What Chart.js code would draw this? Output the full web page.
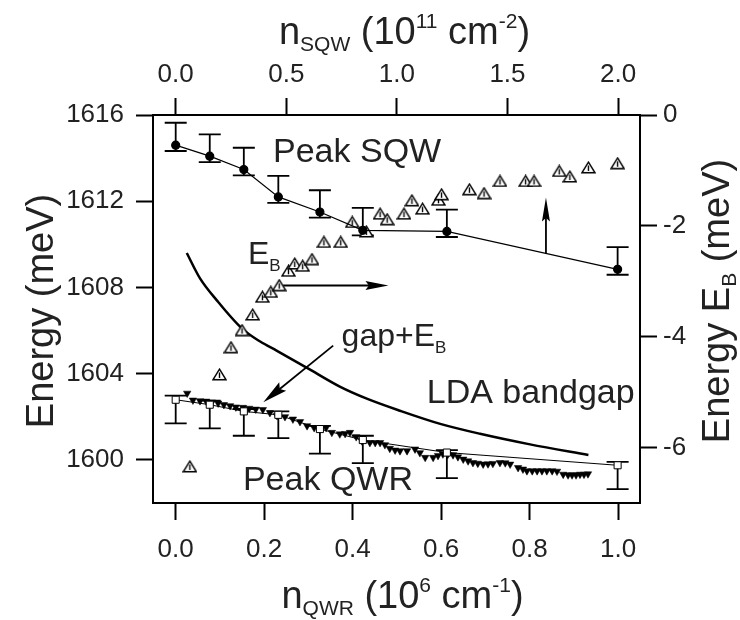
<!DOCTYPE html>
<html>
<head>
<meta charset="utf-8">
<script src="https://cdn.jsdelivr.net/npm/chart.js@4.4.0/dist/chart.umd.min.js"></script>
<style>
  body { margin: 0; background: #fff; }
  canvas { display: block; }
</style>
</head>
<body>
<canvas id="chart" width="740" height="620"></canvas>
<script>
// n_QWR (10^6 cm^-1) of the measured peaks
const peakX = [0.0, 0.077, 0.154, 0.232, 0.326, 0.423, 0.613, 0.999];

// Peak SQW (meV) and its error bar ends
const sqwPeak = [1614.6, 1614.09, 1613.47, 1612.2, 1611.5, 1610.65, 1610.6, 1608.84];
const sqwHigh = [1615.64, 1615.1, 1614.48, 1613.18, 1612.51, 1611.69, 1611.61, 1609.87];
const sqwLow = [1614.33, 1613.81, 1613.2, 1611.92, 1611.24, 1610.42, 1610.34, 1608.59];

// Peak QWR (meV) and its error bar ends
const qwrPeak = [1602.79, 1602.56, 1602.25, 1602.09, 1601.43, 1600.92, 1600.34, 1599.75];
const qwrHigh = [1602.98, 1602.75, 1602.36, 1602.25, 1601.58, 1601.12, 1600.45, 1599.91];
const qwrLow = [1601.69, 1601.46, 1601.12, 1601.01, 1600.29, 1599.85, 1599.15, 1598.64];

// E_B (meV, right axis)
const ebX = [0.032, 0.099, 0.125, 0.150, 0.174, 0.196, 0.215, 0.234, 0.255, 0.269, 0.287,
  0.308, 0.335, 0.373, 0.399, 0.431, 0.462, 0.478, 0.516, 0.534, 0.558, 0.594, 0.601,
  0.664, 0.697, 0.733, 0.791, 0.810, 0.867, 0.891, 0.933, 0.999];
const ebVal = [-6.34, -4.68, -4.19, -3.88, -3.60, -3.28, -3.19, -3.07, -2.81, -2.68, -2.72,
  -2.60, -2.29, -2.29, -1.93, -2.10, -1.78, -1.88, -1.78, -1.54, -1.69, -1.53, -1.43,
  -1.34, -1.41, -1.19, -1.19, -1.19, -1.01, -1.11, -0.945, -0.87];

// gap + E_B (meV)
const gapX = [0.026, 0.039, 0.055, 0.069, 0.082, 0.096, 0.109, 0.123, 0.136, 0.152, 0.166,
  0.181, 0.197, 0.213, 0.229, 0.247, 0.265, 0.281, 0.297, 0.313, 0.326, 0.340, 0.353,
  0.371, 0.383, 0.394, 0.408, 0.421, 0.439, 0.451, 0.462, 0.473, 0.484, 0.496, 0.507,
  0.523, 0.541, 0.552, 0.564, 0.582, 0.593, 0.604, 0.615, 0.627, 0.638, 0.650, 0.661,
  0.672, 0.683, 0.695, 0.706, 0.717, 0.733, 0.745, 0.756, 0.774, 0.785, 0.794, 0.806,
  0.817, 0.828, 0.839, 0.851, 0.862, 0.876, 0.887, 0.896, 0.905, 0.914, 0.923, 0.932];
const gapVal = [1603.09, 1602.77, 1602.74, 1602.72, 1602.68, 1602.63, 1602.56, 1602.51,
  1602.45, 1602.43, 1602.39, 1602.35, 1602.33, 1602.19, 1602.05, 1602.0, 1601.89, 1601.77,
  1601.58, 1601.49, 1601.44, 1601.49, 1601.27, 1601.20, 1601.22, 1601.27, 1601.07, 1600.88,
  1600.80, 1600.80, 1600.80, 1600.70, 1600.53, 1600.45, 1600.42, 1600.42, 1600.50, 1600.33,
  1600.11, 1600.11, 1600.20, 1600.27, 1600.25, 1600.23, 1600.14, 1600.03, 1599.95, 1599.87,
  1599.84, 1599.80, 1599.81, 1599.83, 1599.87, 1599.86, 1599.80, 1599.64, 1599.57, 1599.49,
  1599.49, 1599.49, 1599.49, 1599.49, 1599.49, 1599.47, 1599.33, 1599.30, 1599.30, 1599.30,
  1599.33, 1599.33, 1599.35];

// LDA bandgap curve (meV)
const ldaX = [0.025, 0.055, 0.093, 0.150, 0.191, 0.228, 0.296, 0.371, 0.432, 0.507,
  0.598, 0.688, 0.801, 0.933];
const ldaVal = [1609.60, 1608.42, 1607.40, 1606.09, 1605.49, 1605.07, 1604.28, 1603.40,
  1602.84, 1602.28, 1601.67, 1601.21, 1600.72, 1600.23];

// tick labels
const bottomTicks = [0.0, 0.2, 0.4, 0.6, 0.8, 1.0];
const topTicks = [0.0, 0.5, 1.0, 1.5, 2.0];
const leftTicks = [1600, 1604, 1608, 1612, 1616];
const rightTicks = [0, -2, -4, -6];

const FONT = '"Liberation Sans", Arial, Helvetica, sans-serif';

function pts(xs, ys) {
  return xs.map((v, i) => ({x: v, y: ys[i]}));
}

// open triangle with a small stroke inside, like the original symbol
function openTriangle() {
  const c = document.createElement('canvas');
  c.width = 15; c.height = 13;
  const g = c.getContext('2d');
  g.fillStyle = '#fff';
  g.strokeStyle = '#000';
  g.lineWidth = 1.4;
  g.beginPath();
  g.moveTo(7.5, 1.2); g.lineTo(14, 11.8); g.lineTo(1, 11.8); g.closePath();
  g.fill(); g.stroke();
  g.beginPath();
  g.moveTo(7.5, 4.5); g.lineTo(7.5, 10);
  g.stroke();
  return c;
}

// text made of pieces with sub / superscripts: [text, size, dy]
function drawRich(ctx, parts, x, y, align) {
  let w = 0;
  parts.forEach(p => {
    ctx.font = p[1] + 'px ' + FONT;
    w += ctx.measureText(p[0]).width;
  });
  let cx = align === 'center' ? x - w / 2 : x;
  parts.forEach(p => {
    ctx.font = p[1] + 'px ' + FONT;
    ctx.fillText(p[0], cx, y + (p[2] || 0));
    cx += ctx.measureText(p[0]).width;
  });
}

function arrow(ctx, x1, y1, x2, y2, headLen, headW) {
  const a = Math.atan2(y2 - y1, x2 - x1);
  ctx.beginPath();
  ctx.moveTo(x1, y1);
  ctx.lineTo(x2 - Math.cos(a) * headLen * 0.8, y2 - Math.sin(a) * headLen * 0.8);
  ctx.stroke();
  ctx.save();
  ctx.translate(x2, y2);
  ctx.rotate(a);
  ctx.beginPath();
  ctx.moveTo(0, 0);
  ctx.lineTo(-headLen, -headW / 2);
  ctx.lineTo(-headLen * 0.85, 0);
  ctx.lineTo(-headLen, headW / 2);
  ctx.closePath();
  ctx.fill();
  ctx.restore();
}

const errorBars = {
  id: 'errorBars',
  beforeDatasetsDraw(chart) {
    const {ctx, scales: {x, y}} = chart;
    ctx.save();
    ctx.strokeStyle = '#000';
    ctx.lineWidth = 1.8;
    [[sqwHigh, sqwLow], [qwrHigh, qwrLow]].forEach(([hi, lo]) => {
      peakX.forEach((v, i) => {
        const px = x.getPixelForValue(v);
        const top = y.getPixelForValue(hi[i]);
        const bot = y.getPixelForValue(lo[i]);
        ctx.beginPath();
        ctx.moveTo(px, top); ctx.lineTo(px, bot);
        ctx.moveTo(px - 11, top); ctx.lineTo(px + 11, top);
        ctx.moveTo(px - 11, bot); ctx.lineTo(px + 11, bot);
        ctx.stroke();
      });
    });
    ctx.restore();
  }
};

const labels = {
  id: 'labels',
  afterDraw(chart) {
    const {ctx, scales: {x, y}, chartArea: ca} = chart;
    const X = v => x.getPixelForValue(v);
    const Y = v => y.getPixelForValue(v);
    ctx.save();
    ctx.fillStyle = '#222';
    ctx.strokeStyle = '#000';
    ctx.textBaseline = 'alphabetic';
    ctx.textAlign = 'left';

    // labels inside the plot
    drawRich(ctx, [['Peak SQW', 34]], X(0.22), Y(1613.83));
    drawRich(ctx, [['E', 32], ['B', 17, 7]], X(0.1635), Y(1609.1));
    drawRich(ctx, [['gap+E', 32], ['B', 17, 7]], X(0.375), Y(1605.3));
    drawRich(ctx, [['LDA bandgap', 34]], X(0.5675), Y(1602.65));
    drawRich(ctx, [['Peak QWR', 34]], X(0.152), Y(1598.59));

    // arrows
    ctx.fillStyle = '#000';
    ctx.lineWidth = 1.8;
    arrow(ctx, X(0.243), Y(1608.09), X(0.481), Y(1608.09), 23, 9);
    arrow(ctx, X(0.837), Y(1609.6), X(0.837), Y(1612.17), 24, 8);
    arrow(ctx, X(0.356), Y(1605.3), X(0.198), Y(1602.67), 25, 11);

    // axis titles
    ctx.fillStyle = '#222';
    const cx = (ca.left + ca.right) / 2;
    drawRich(ctx, [['n', 38], ['QWR', 21, 7], [' (10', 38], ['6', 21, -16],
      [' cm', 38], ['-1', 21, -16], [')', 38]], cx + 6, 608, 'center');
    drawRich(ctx, [['n', 38], ['SQW', 21, 7], [' (10', 38], ['11', 21, -16],
      [' cm', 38], ['-2', 21, -16], [')', 38]], cx + 8, 44, 'center');

    const cy = (ca.top + ca.bottom) / 2;
    ctx.save();
    ctx.translate(53, cy + 2);
    ctx.rotate(-Math.PI / 2);
    drawRich(ctx, [['Energy (meV)', 38]], 0, 0, 'center');
    ctx.restore();

    ctx.save();
    ctx.translate(729, cy - 8);
    ctx.rotate(-Math.PI / 2);
    drawRich(ctx, [['Energy E', 38], ['B', 21, 7], [' (meV)', 38]], 0, 0, 'center');
    ctx.restore();

    ctx.restore();
  }
};

function axis(position, min, max, size, tickVals, fmt, pad) {
  return {
    type: 'linear',
    position: position,
    min: min,
    max: max,
    afterFit: s => {
      if (position === 'left' || position === 'right') s.width = size;
      else s.height = size;
    },
    afterBuildTicks: s => { s.ticks = tickVals.map(v => ({value: v})); },
    grid: {
      drawOnChartArea: false,
      drawTicks: true,
      tickLength: 17,
      tickWidth: 2,
      tickColor: '#000',
      color: '#000'
    },
    border: {display: true, color: '#000', width: 2},
    ticks: {
      color: '#222',
      font: {family: FONT, size: 26},
      padding: pad,
      maxRotation: 0,
      autoSkip: false,
      callback: fmt
    }
  };
}

new Chart(document.getElementById('chart'), {
  type: 'scatter',
  data: {
    datasets: [
      {
        label: 'Peak SQW',
        data: pts(peakX, sqwPeak),
        showLine: true,
        borderColor: '#000',
        borderWidth: 1.2,
        pointStyle: 'circle',
        pointRadius: 4,
        pointBackgroundColor: '#000',
        pointBorderColor: '#000',
        xAxisID: 'x', yAxisID: 'y',
        order: 1
      },
      {
        label: 'Peak QWR',
        data: pts(peakX, qwrPeak),
        showLine: true,
        borderColor: '#000',
        borderWidth: 1,
        pointStyle: 'rect',
        pointRadius: 5,
        pointBorderWidth: 1,
        pointBackgroundColor: '#fff',
        pointBorderColor: '#000',
        xAxisID: 'x', yAxisID: 'y',
        order: 2
      },
      {
        label: 'gap+E_B',
        data: pts(gapX, gapVal),
        showLine: false,
        pointStyle: 'triangle',
        rotation: 180,
        pointRadius: 4.3,
        pointBorderWidth: 0.5,
        pointBackgroundColor: '#000',
        pointBorderColor: '#000',
        xAxisID: 'x', yAxisID: 'y',
        order: 3
      },
      {
        label: 'E_B',
        data: pts(ebX, ebVal),
        showLine: false,
        pointStyle: openTriangle(),
        xAxisID: 'x', yAxisID: 'y2',
        order: 4
      },
      {
        label: 'LDA bandgap',
        data: pts(ldaX, ldaVal),
        showLine: true,
        borderColor: '#000',
        borderWidth: 2.5,
        pointRadius: 0,
        cubicInterpolationMode: 'monotone',
        xAxisID: 'x', yAxisID: 'y',
        order: 5
      }
    ]
  },
  options: {
    responsive: false,
    animation: false,
    layout: {padding: 0},
    plugins: {legend: {display: false}, tooltip: {enabled: false}},
    scales: {
      x: axis('bottom', -0.0513, 1.0496, 117, bottomTicks, v => v.toFixed(1), 14),
      x2: axis('top', -0.1026, 2.0992, 115, topTicks, v => v.toFixed(1), 8),
      y: axis('left', 1598, 1616, 153, leftTicks, v => String(v), 12),
      y2: axis('right', -7, 0, 100, rightTicks, v => String(v), 6)
    }
  },
  plugins: [errorBars, labels]
});
</script>
</body>
</html>
